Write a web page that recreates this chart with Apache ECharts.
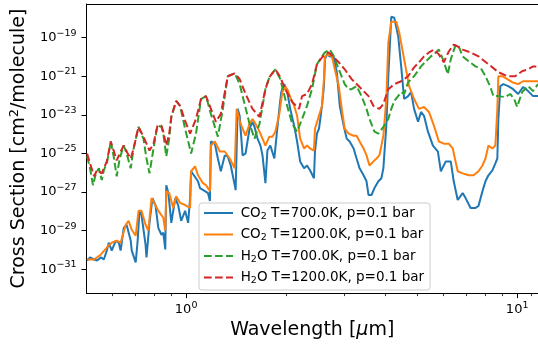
<!DOCTYPE html>
<html>
<head>
<meta charset="utf-8">
<script src="https://cdn.jsdelivr.net/npm/echarts@6/dist/echarts.min.js"></script>
<style>
  html, body { margin: 0; padding: 0; background: #fff; }
  #chart { width: 538px; height: 345px; }
</style>
</head>
<body>
<div id="chart"></div>
<script>
// Absorption cross sections of CO2 and H2O at p = 0.1 bar.
// Wavelengths in micrometres, cross sections stored as log10(cm^2/molecule).

const co2_700K_wl = [0.502,0.5125,0.527,0.538,0.553,0.564,0.576,0.584,0.596,0.613,
  0.626,0.634,0.648,0.661,0.680,0.685,0.704,0.713,0.723,0.733,
  0.754,0.759,0.775,0.791,0.808,0.824,0.842,0.853,0.865,0.871,
  0.884,0.902,0.927,0.946,0.966,0.993,1.014,1.028,1.035,1.049,
  1.086,1.101,1.140,1.164,1.180,1.188,1.221,1.247,1.273,1.308,
  1.336,1.364,1.402,1.411,1.431,1.451,1.481,1.512,1.554,1.587,
  1.609,1.643,1.677,1.701,1.736,1.760,1.796,1.847,1.885,1.912,
  1.938,1.979,2.021,2.063,2.120,2.164,2.210,2.271,2.318,2.367,
  2.433,2.450,2.484,2.519,2.536,2.572,2.608,2.626,2.662,2.718,
  2.794,2.852,2.912,2.992,3.055,3.119,3.206,3.273,3.342,3.435,
  3.507,3.556,3.630,3.706,3.809,3.889,3.943,4.025,4.081,4.166,
  4.254,4.373,4.463,4.557,4.684,4.782,4.882,5.019,5.124,5.231,
  5.377,5.566,5.762,5.881,6.088,6.301,6.433,6.613,6.845,6.987,
  7.233,7.487,7.641,7.856,8.021,8.188,8.418,8.593,8.713,8.774,
  8.895,9.081,9.399,9.727,10.07,10.42,10.79,11.17,11.56];
const co2_700K_log10 = [-30.54,-30.38,-30.49,-30.54,-30.38,-30.49,-30.03,-29.62,-30.03,-29.51,
  -29.62,-30.03,-28.85,-28.69,-29.51,-30.03,-30.64,-29.62,-27.97,-28.18,
  -29.72,-30.38,-28.59,-27.31,-27.67,-28.85,-29.21,-29.10,-29.97,-26.64,
  -27.05,-28.59,-27.31,-27.67,-28.49,-27.97,-28.59,-27.31,-25.92,-25.87,
  -26.44,-26.79,-26.95,-27.05,-27.46,-24.38,-24.49,-25.26,-25.92,-25.10,
  -25.15,-25.62,-26.64,-26.90,-22.69,-23.05,-25.10,-25.00,-23.72,-23.36,
  -23.62,-24.23,-24.59,-25.10,-26.54,-24.85,-24.59,-25.26,-23.72,-22.69,
  -21.82,-21.41,-21.82,-22.69,-23.56,-24.38,-25.41,-25.77,-25.62,-25.87,
  -26.28,-24.90,-23.97,-23.72,-23.36,-22.54,-21.51,-20.13,-19.87,-19.97,
  -20.03,-20.79,-22.54,-23.56,-24.23,-24.38,-24.74,-25.26,-25.77,-26.13,
  -26.44,-27.15,-27.15,-26.79,-26.44,-26.28,-25.77,-23.56,-21.00,-17.92,
  -17.97,-18.95,-20.49,-22.18,-22.03,-21.82,-22.69,-23.36,-22.85,-23.05,
  -23.87,-24.59,-24.90,-25.92,-25.41,-25.41,-26.44,-27.41,-27.05,-27.31,
  -27.82,-27.82,-27.72,-26.95,-26.44,-26.13,-25.87,-25.51,-25.26,-23.21,
  -21.51,-21.41,-21.51,-21.67,-21.92,-21.56,-21.77,-22.03,-22.03];

const co2_1200K_wl = [0.502,0.527,0.553,0.576,0.596,0.617,0.634,0.657,0.670,0.685,
  0.704,0.718,0.733,0.754,0.769,0.786,0.797,0.824,0.853,0.865,
  0.871,0.889,0.914,0.933,0.959,0.993,1.028,1.035,1.064,1.086,
  1.124,1.148,1.180,1.188,1.221,1.264,1.308,1.354,1.402,1.421,
  1.451,1.481,1.512,1.554,1.587,1.620,1.666,1.701,1.736,1.784,
  1.822,1.860,1.912,1.952,1.993,2.021,2.063,2.120,2.164,2.210,
  2.271,2.318,2.367,2.433,2.450,2.519,2.572,2.608,2.626,2.699,
  2.755,2.813,2.892,2.952,3.013,3.097,3.206,3.273,3.342,3.435,
  3.507,3.580,3.681,3.757,3.836,3.943,4.025,4.081,4.166,4.313,
  4.403,4.557,4.716,4.882,5.053,5.231,5.414,5.604,5.801,6.004,
  6.215,6.388,6.613,6.845,7.134,7.385,7.641,7.856,8.021,8.188,
  8.418,8.593,8.713,8.774,9.019,9.335,9.661,10.07,10.42,10.94,
  11.56];
const co2_1200K_log10 = [-30.49,-30.49,-30.23,-29.87,-29.62,-29.51,-29.62,-28.69,-28.49,-28.95,
  -29.26,-27.97,-27.97,-28.69,-29.00,-27.31,-27.21,-27.97,-28.33,-29.00,
  -26.95,-27.05,-27.82,-27.21,-27.56,-27.67,-27.82,-25.92,-25.67,-26.13,
  -26.54,-26.64,-26.95,-24.59,-24.38,-24.90,-24.90,-25.26,-25.77,-22.69,
  -23.31,-23.72,-24.08,-23.46,-23.21,-23.46,-23.87,-24.23,-24.59,-24.13,
  -24.13,-23.87,-22.95,-21.82,-21.56,-21.67,-22.08,-22.54,-23.05,-24.23,
  -24.74,-24.59,-24.74,-24.85,-23.72,-23.05,-22.54,-21.15,-19.97,-19.87,
  -19.97,-20.64,-21.51,-22.69,-23.72,-23.97,-24.08,-24.08,-24.38,-24.74,
  -25.10,-25.62,-25.41,-25.26,-25.10,-24.08,-22.18,-19.26,-18.18,-18.18,
  -18.74,-20.13,-21.51,-22.18,-22.69,-22.59,-22.85,-23.56,-24.38,-24.49,
  -24.49,-24.74,-25.92,-26.03,-26.13,-26.13,-25.92,-25.62,-25.26,-24.59,
  -24.74,-24.59,-22.69,-21.00,-21.00,-21.15,-21.31,-21.41,-21.26,-21.26,
  -21.26];

const h2o_700K_wl = [0.502,0.5125,0.523,0.534,0.545,0.556,0.564,0.576,0.592,0.604,
  0.617,0.630,0.648,0.661,0.680,0.694,0.718,0.743,0.759,0.775,
  0.797,0.819,0.842,0.853,0.871,0.889,0.902,0.933,0.959,0.993,
  1.035,1.071,1.109,1.148,1.188,1.247,1.291,1.336,1.402,1.451,
  1.502,1.554,1.609,1.666,1.736,1.784,1.860,1.925,1.993,2.091,
  2.164,2.240,2.318,2.400,2.484,2.572,2.626,2.718,2.794,2.892,
  3.013,3.097,3.162,3.273,3.388,3.507,3.580,3.706,3.809,3.943,
  4.081,4.166,4.254,4.463,4.557,4.684,4.882,5.124,5.303,5.489,
  5.683,5.801,6.004,6.172,6.301,6.522,6.659,6.845,7.134,7.487,
  7.802,8.021,8.302,8.475,8.774,9.207,9.529,9.795,10.0,10.35,
  10.79,11.17,11.56];
const h2o_700K_log10 = [-25.15,-25.77,-26.64,-26.03,-25.77,-26.38,-25.87,-25.51,-24.38,-25.15,
  -26.18,-25.26,-24.59,-25.00,-25.77,-24.74,-23.62,-24.23,-25.26,-26.03,
  -24.74,-23.56,-23.62,-23.97,-25.15,-24.23,-23.10,-22.28,-22.54,-23.72,
  -25.00,-23.97,-22.18,-22.03,-22.95,-24.13,-22.69,-21.00,-20.85,-21.41,
  -22.44,-23.46,-24.23,-23.46,-21.67,-21.05,-20.64,-21.15,-22.18,-23.46,
  -23.87,-23.21,-22.54,-21.67,-20.38,-19.97,-19.77,-19.62,-19.97,-20.64,
  -21.41,-21.67,-21.67,-21.51,-22.03,-22.69,-23.21,-23.87,-23.97,-23.62,
  -23.21,-22.69,-22.28,-21.82,-21.92,-21.31,-21.00,-20.49,-20.23,-19.97,
  -19.77,-19.62,-20.23,-20.90,-20.13,-19.36,-19.46,-19.97,-20.23,-20.49,
  -20.64,-21.00,-21.56,-22.03,-22.03,-22.08,-21.92,-22.18,-22.59,-21.82,
  -21.51,-21.77,-21.41];

const h2o_1200K_wl = [0.502,0.5125,0.527,0.538,0.545,0.556,0.564,0.576,0.592,0.604,
  0.617,0.630,0.648,0.666,0.680,0.694,0.718,0.743,0.759,0.775,
  0.797,0.819,0.842,0.853,0.871,0.889,0.902,0.933,0.959,0.993,
  1.028,1.071,1.109,1.148,1.188,1.230,1.273,1.336,1.402,1.451,
  1.512,1.587,1.666,1.736,1.784,1.860,1.925,1.993,2.091,2.194,
  2.240,2.318,2.400,2.484,2.572,2.626,2.699,2.794,2.892,3.013,
  3.162,3.319,3.435,3.556,3.681,3.836,3.943,4.081,4.254,4.463,
  4.684,4.882,5.053,5.231,5.414,5.604,5.801,6.004,6.215,6.433,
  6.613,6.845,7.233,7.641,8.188,8.774,9.335,9.863,10.35,10.79,
  11.17,11.56];
const h2o_1200K_log10 = [-25.00,-25.51,-26.18,-25.87,-25.87,-26.03,-25.77,-25.41,-24.38,-24.85,
  -25.36,-25.00,-24.59,-25.00,-25.26,-24.74,-23.62,-24.13,-24.49,-24.85,
  -24.49,-23.56,-23.56,-23.87,-24.59,-23.97,-23.10,-22.28,-22.54,-23.31,
  -23.97,-23.21,-22.18,-22.03,-22.69,-23.36,-22.95,-21.00,-20.85,-21.15,
  -21.92,-22.69,-23.10,-21.67,-21.05,-20.64,-21.05,-21.67,-22.33,-22.69,
  -22.03,-21.92,-21.41,-20.38,-20.03,-19.87,-19.77,-20.03,-20.28,-20.64,
  -21.15,-21.51,-21.77,-22.03,-22.54,-22.69,-22.44,-21.67,-21.41,-21.26,
  -21.00,-20.54,-20.28,-19.97,-19.77,-19.62,-19.87,-20.28,-19.72,-19.36,
  -19.46,-19.62,-19.77,-19.97,-20.38,-20.79,-21.00,-21.00,-20.74,-20.64,
  -20.49,-20.49];

// Axis extents and tick positions
const xRange = [0.5, 11.56];
const yRangeLog10 = [-32.23, -17.26];
const xMajorTicks = [1, 10];
const xMinorTicks = [0.6, 0.7, 0.8, 0.9, 2, 3, 4, 5, 6, 7, 8, 9, 11];
const yTickLog10 = [-31, -29, -27, -25, -23, -21, -19];

const seriesNames = [
  '{t|CO}{sub|2}{t| T=700.0K, p=0.1 bar}',
  '{t|CO}{sub|2}{t| T=1200.0K, p=0.1 bar}',
  '{t|H}{sub|2}{t|O T=700.0K, p=0.1 bar}',
  '{t|H}{sub|2}{t|O T=1200.0K, p=0.1 bar}'
];
const seriesColors = ['#1f77b4', '#ff7f0e', '#2ca02c', '#d62728'];

const FONT = 'DejaVu Sans';

function toPoints(wl, lg) {
  const n = Math.min(wl.length, lg.length);
  const out = [];
  for (let i = 0; i < n; i++) out.push([wl[i], Math.pow(10, lg[i])]);
  return out;
}

function powerLabel(value) {
  const e = Math.round(Math.log10(value));
  const s = e < 0 ? '\u2212' + Math.abs(e) : String(e);
  return '{b|10}{s|' + s + '}';
}

const tickRich = {
  b: { fontFamily: FONT, fontSize: 13, color: '#000' },
  s: { fontFamily: FONT, fontSize: 9.5, color: '#000', padding: [0, 0, 9, 0] }
};

const seriesData = [
  toPoints(co2_700K_wl, co2_700K_log10),
  toPoints(co2_1200K_wl, co2_1200K_log10),
  toPoints(h2o_700K_wl, h2o_700K_log10),
  toPoints(h2o_1200K_wl, h2o_1200K_log10)
];

const chart = echarts.init(document.getElementById('chart'), null, { renderer: 'canvas' });

chart.setOption({
  animation: false,
  backgroundColor: '#fff',
  grid: { left: 83, top: 4, right: 0, bottom: 49, containLabel: false },
  xAxis: [
    {
      type: 'log', logBase: 10, min: xRange[0], max: xRange[1], position: 'bottom',
      axisLine: { show: true, lineStyle: { color: '#000', width: 1 } },
      axisTick: { show: true, customValues: xMajorTicks, length: 5, lineStyle: { color: '#000', width: 1 } },
      axisLabel: { show: true, customValues: xMajorTicks, margin: 7, formatter: powerLabel, rich: tickRich },
      splitLine: { show: false },
      name: 'Wavelength [{i|\u03bc}m]', nameLocation: 'middle', nameGap: 26,
      nameTextStyle: { fontFamily: FONT, fontSize: 19, color: '#000',
        rich: { i: { fontFamily: FONT, fontSize: 19, fontStyle: 'italic', color: '#000' } } }
    },
    {
      type: 'log', logBase: 10, min: xRange[0], max: xRange[1], position: 'bottom',
      axisLine: { show: false },
      axisTick: { show: true, customValues: xMinorTicks, length: 3, lineStyle: { color: '#000', width: 0.8 } },
      axisLabel: { show: false },
      splitLine: { show: false }
    },
    {
      type: 'log', logBase: 10, min: xRange[0], max: xRange[1], position: 'top',
      axisLine: { show: true, lineStyle: { color: '#000', width: 1 } },
      axisTick: { show: false }, axisLabel: { show: false }, splitLine: { show: false }
    }
  ],
  yAxis: [
    {
      type: 'log', logBase: 10,
      min: Math.pow(10, yRangeLog10[0]), max: Math.pow(10, yRangeLog10[1]),
      position: 'left',
      axisLine: { show: true, lineStyle: { color: '#000', width: 1 } },
      axisTick: { show: true, customValues: yTickLog10.map(e => Math.pow(10, e)), length: 5,
        lineStyle: { color: '#000', width: 1 } },
      axisLabel: { show: true, customValues: yTickLog10.map(e => Math.pow(10, e)), margin: 10,
        formatter: powerLabel, rich: tickRich },
      splitLine: { show: false },
      name: 'Cross Section [cm{s|2}/molecule]', nameLocation: 'middle', nameGap: 49,
      nameTextStyle: { fontFamily: FONT, fontSize: 19, color: '#000',
        rich: { s: { fontFamily: FONT, fontSize: 13, color: '#000', padding: [0, 0, 10, 0] } } }
    }
  ],
  legend: {
    orient: 'vertical', left: 199, top: 203,
    padding: [3, 6, 4, 4],
    itemWidth: 29, itemHeight: 14, itemGap: 6,
    itemStyle: { opacity: 0, color: 'rgba(0,0,0,0)', borderWidth: 0 },
    backgroundColor: 'rgba(255,255,255,0.8)',
    borderColor: '#cccccc', borderWidth: 1, borderRadius: 3,
    data: seriesNames,
    textStyle: {
      fontFamily: FONT, fontSize: 13.5, color: '#000',
      rich: {
        t: { fontFamily: FONT, fontSize: 13.5, color: '#000' },
        sub: { fontFamily: FONT, fontSize: 9.5, color: '#000', padding: [7, 0, 0, 0] }
      }
    },
    formatter: name => '{t|\u2009}' + name
  },
  series: seriesNames.map((name, i) => ({
    name: name,
    type: 'line',
    xAxisIndex: 0, yAxisIndex: 0,
    data: seriesData[i],
    symbol: 'none',
    smooth: false,
    clip: true,
    lineStyle: { color: seriesColors[i], width: 2, type: i < 2 ? 'solid' : [7.7, 3.3] },
    itemStyle: { color: seriesColors[i] },
    emphasis: { disabled: true }
  }))
});
</script>
</body>
</html>
